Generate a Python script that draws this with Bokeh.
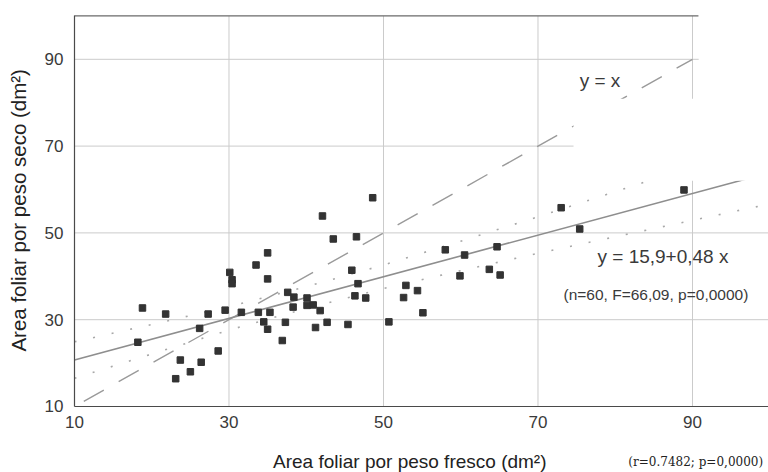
from math import pi
from bokeh.plotting import figure
from bokeh.models import Range1d, FixedTicker, Label
from bokeh.embed import file_html
from bokeh.resources import INLINE

# --- data ---
fresh = [18.2, 18.8, 21.8, 23.1, 23.7, 25.0, 26.2, 26.4, 27.3, 28.6,
         29.5, 30.1, 30.4, 30.4, 31.6, 33.5, 33.8, 34.5, 35.0, 35.0,
         35.0, 35.3, 36.9, 37.3, 37.6, 38.4, 38.3, 40.1, 40.1, 40.9,
         41.2, 41.8, 42.1, 42.7, 43.5, 45.4, 45.9, 46.3, 46.5, 46.7,
         47.7, 48.6, 50.7, 52.6, 52.9, 54.4, 55.1, 58.0, 59.9, 60.5,
         63.7, 64.7, 65.1, 73.0, 75.4, 88.9]
dry = [24.8, 32.7, 31.3, 16.4, 20.7, 18.0, 28.0, 20.2, 31.3, 22.8,
       32.2, 40.9, 39.2, 38.3, 31.7, 42.6, 31.7, 29.5, 27.8, 45.4,
       39.4, 31.7, 25.2, 29.4, 36.3, 35.2, 32.9, 35.0, 33.3, 33.4,
       28.2, 32.1, 53.9, 29.4, 48.6, 28.9, 41.4, 35.5, 49.1, 38.3,
       35.0, 58.1, 29.5, 35.1, 37.9, 36.7, 31.6, 46.1, 40.1, 44.9,
       41.6, 46.8, 40.3, 55.8, 50.9, 59.9]

reg_x = [10.0, 99.0]
reg_y = [20.7, 63.4]
identity_x = [11.2, 90.0]
identity_y = [11.2, 90.0]

band_x = [10, 20, 30, 40, 50, 60, 70, 80, 90, 99]
band_upper = [24.9, 28.9, 33.0, 37.6, 42.6, 48.1, 53.7, 59.5, 65.3, 70.5]
band_lower = [16.5, 22.1, 27.6, 32.6, 37.2, 41.3, 45.3, 49.1, 52.9, 56.3]

x_ticks = [10, 30, 50, 70, 90]
y_ticks = [10, 30, 50, 70, 90]

X_MIN, X_MAX = 10, 99.84
Y_MIN, Y_MAX = 10, 100

FONT = "Liberation Sans"
TXT = "#3a3a3a"

# frame fills the whole canvas; axes sit at fixed data positions
p = figure(width=768, height=472, output_backend="svg", toolbar_location=None,
           x_range=Range1d(0.42, 99.84), y_range=Range1d(-5.21, 103.55),
           min_border=0, min_border_left=0, min_border_right=0,
           min_border_top=0, min_border_bottom=0)
p.outline_line_color = None
p.background_fill_color = "white"
p.border_fill_color = "white"
p.grid.visible = False

for ax, ticks, loc, bounds in ((p.xaxis, x_ticks, Y_MIN, (X_MIN, X_MAX)),
                               (p.yaxis, y_ticks, X_MIN, (Y_MIN, Y_MAX))):
    ax.ticker = FixedTicker(ticks=ticks)
    ax.fixed_location = loc
    ax.bounds = bounds
    ax.major_tick_out = 0
    ax.major_tick_in = 0
    ax.minor_tick_out = 0
    ax.minor_tick_in = 0
    ax.axis_line_color = "#4a4a4a"
    ax.axis_line_width = 1.2
    ax.major_label_text_font = FONT
    ax.major_label_text_font_size = "17px"
    ax.major_label_text_color = TXT
p.xaxis.major_label_standoff = 10
p.yaxis.major_label_standoff = 11

# grid lines (at the tick positions, inside the axes box)
gx = x_ticks[1:]
gy = y_ticks[1:]
p.segment(x0=gx, x1=gx, y0=[Y_MIN] * len(gx), y1=[Y_MAX] * len(gx),
          line_color="#cbcbcb", line_width=1)
p.segment(x0=[X_MIN] * len(gy), x1=[X_MAX] * len(gy), y0=gy, y1=gy,
          line_color="#cbcbcb", line_width=1)

# top frame line
p.line([X_MIN, 90.8], [Y_MAX, Y_MAX], line_color="#6a6a6a", line_width=1.2)

# confidence bands (dotted)
p.line(band_x, band_upper, line_color="#a8a8a8", line_width=1.6, line_dash="2 17")
p.line(band_x, band_lower, line_color="#a8a8a8", line_width=1.6, line_dash="2 17")

# y = x dashed
p.line(identity_x, identity_y, line_color="#9a9a9a", line_width=1.4, line_dash="23 17")

# regression line
p.line(reg_x, reg_y, line_color="#8e8e8e", line_width=1.6)

# points
p.scatter(fresh, dry, marker="square", size=6.5, fill_color="#333333",
          line_color="#333333")

# white patches from the scan
p.quad(left=[74.6, 90.8], right=[100.5, 100.5], bottom=[62.0, 80.9],
       top=[80.9, 104], fill_color="white", line_color=None)

def add_label(x, y, text, size, font=FONT, align="left", angle=0, color=TXT):
    p.add_layout(Label(x=x, y=y, text=text, text_font=font,
                       text_font_size=size, text_color=color,
                       text_align=align, text_baseline="middle", angle=angle))

add_label(75.4, 85.1, "y = x", "19px")
add_label(77.7, 44.6, "y = 15,9+0,48 x", "19px")
add_label(73.3, 35.8, "(n=60, F=66,09, p=0,0000)", "15.5px")
add_label(81.7, -2.9, "(r=0.7482; p=0,0000)", "12px", font="DejaVu Serif",
          color="#222222")
add_label(53.4, -2.6, "Area foliar por peso fresco (dm²)", "19px", align="center",
          color="#222222")
add_label(2.75, 55.2, "Area foliar por peso seco (dm²)", "20.5px", align="center",
          angle=pi / 2, color="#222222")

open("out.html", "w").write(file_html(p, INLINE))
